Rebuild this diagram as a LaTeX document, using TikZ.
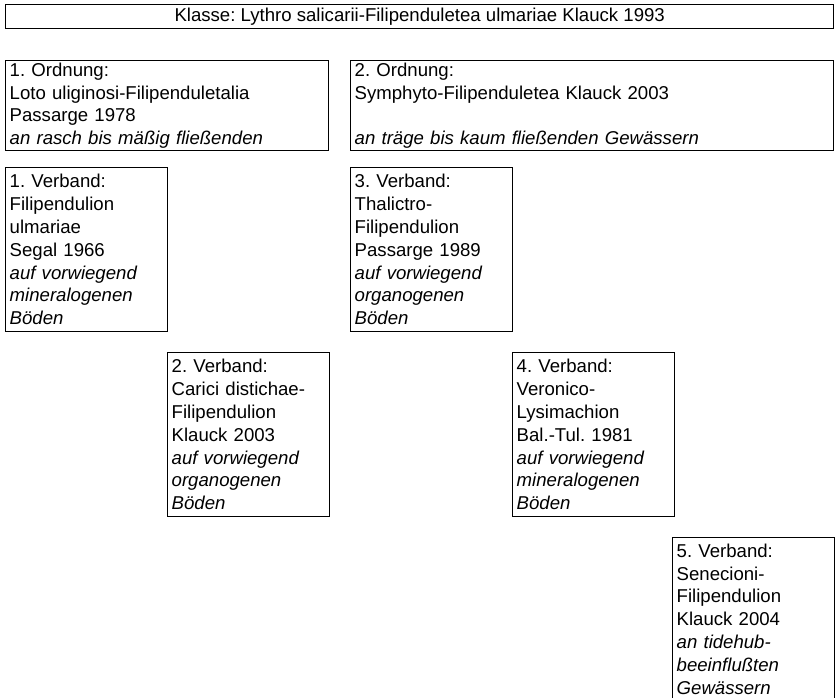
\documentclass[tikz,border=0pt]{standalone}
\usepackage{fontspec}
\setmainfont{Liberation Sans}
\frenchspacing
\begin{document}
\begin{tikzpicture}[x=1pt,y=-1pt,
    box/.style={draw,line width=1.4pt,anchor=north west,inner xsep=4pt,inner ysep=0pt,
      align=left,font=\fontsize{18.6}{22.8}\selectfont},
    klasse/.style={box,align=center,minimum width=828pt,minimum height=24pt},
    ordnung/.style={box,minimum height=90pt},
    verband/.style={box,text width=154pt,minimum height=164pt}]
      \useasboundingbox (0,0) rectangle (836,698);
      \node[klasse] (klasse) at (5,4) {Klasse: Lythro salicarii-Filipenduletea ulmariae Klauck 1993};
      \node[ordnung,text width=315pt] (ord1) at (5,60)
        {1. Ordnung:\\Loto uliginosi-Filipenduletalia\\Passarge 1978\\\textit{an rasch bis mäßig fließenden}};
      \node[ordnung,text width=475pt] (ord2) at (350,60)
        {2. Ordnung:\\Symphyto-Filipenduletea Klauck 2003\\\mbox{}\\\textit{an träge bis kaum fließenden Gewässern}};
      \node[verband] (verb1) at (5,167)
        {1. Verband:\\Filipendulion\\ulmariae\\Segal 1966\\\textit{auf vorwiegend}\\\textit{mineralogenen}\\\textit{Böden}};
      \node[verband] (verb2) at (167,352)
        {2. Verband:\\Carici distichae-\\Filipendulion\\Klauck 2003\\\textit{auf vorwiegend}\\\textit{organogenen}\\\textit{Böden}};
      \node[verband] (verb3) at (350,167)
        {3. Verband:\\Thalictro-\\Filipendulion\\Passarge 1989\\\textit{auf vorwiegend}\\\textit{organogenen}\\\textit{Böden}};
      \node[verband] (verb4) at (512,352)
        {4. Verband:\\Veronico-\\Lysimachion\\Bal.-Tul. 1981\\\textit{auf vorwiegend}\\\textit{mineralogenen}\\\textit{Böden}};
      \node[verband,minimum height=162.5pt] (verb5) at (672,537)
        {5. Verband:\\Senecioni-\\Filipendulion\\Klauck 2004\\\textit{an tidehub-}\\\textit{beeinflußten}\\\textit{Gewässern}};
    \end{tikzpicture}
\end{document}
